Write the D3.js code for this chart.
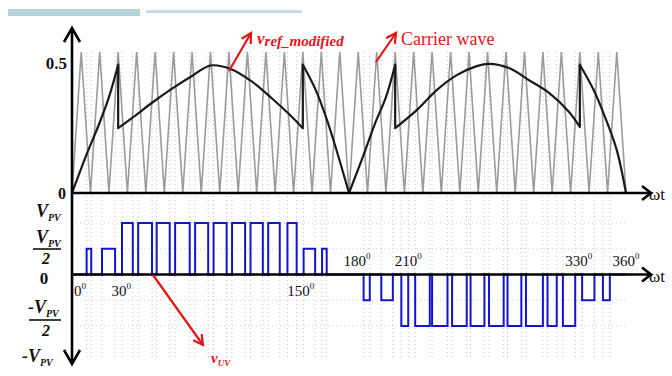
<!DOCTYPE html>
<html>
<head>
<meta charset="utf-8">
<script src="https://cdn.jsdelivr.net/npm/d3@7"></script>
<style>
body { margin: 0; background: #fff; }
svg { display: block; font-family: "Liberation Serif", "DejaVu Serif", serif; }
</style>
</head>
<body>
<div id="chart"></div>
<script>

// carrier wave corners, in degrees
var carrierValleys = [0, 12, 24, 36, 48, 60, 72, 84, 96, 108, 120, 132, 144, 156, 168, 180,
    192, 204, 216, 228, 240, 252, 264, 276, 288, 300, 312, 324, 336, 348, 360];
var carrierPeaks = [6, 18, 30, 42, 54, 66, 78, 90, 102, 114, 126, 138, 150, 162, 174,
    186, 198, 210, 222, 234, 246, 258, 270, 282, 294, 306, 318, 330, 342, 354];
var carrierMax = 0.5;

// v_ref_modified, jumps at 30/150/210/330, cusp at 180
var refAngles = [0, 9, 18, 24, 30, 30, 40, 52, 65, 78, 90, 103, 117, 130, 141, 150,
    150, 158, 165, 172, 180, 180, 189, 197, 204, 210, 210, 224, 237, 250, 263, 271, 284, 297, 310, 323, 330,
    330, 339, 347, 354, 360];
var refValues = [0, 0.13, 0.25, 0.34, 0.455, 0.23, 0.27, 0.32, 0.37, 0.415, 0.452, 0.44, 0.395, 0.335, 0.28, 0.23,
    0.455, 0.37, 0.27, 0.15, 0, 0, 0.128, 0.248, 0.34, 0.455, 0.23, 0.294, 0.365, 0.418, 0.45, 0.458, 0.443, 0.40, 0.355, 0.287, 0.234,
    0.455, 0.365, 0.26, 0.152, 0];

// v_UV pulses (degrees, level in units of V_PV)
var pulseStart = [9.5, 19.5, 32.5, 43, 55, 67, 80, 92, 104, 116, 127.5, 140, 150.5, 162.5,
    189.5, 201, 214, 223, 234, 247, 259, 271, 283, 295, 309, 319, 331.5, 345];
var pulseEnd = [12.5, 28, 39.5, 52, 63.5, 76.5, 88.5, 100.5, 112.5, 124, 135, 146, 158, 165.5,
    193.5, 208.5, 218.5, 232.5, 244, 256.5, 268, 280.5, 292, 306, 315, 327, 339.5, 349.5];
var pulseLevel = [0.5, 0.5, 1, 1, 1, 1, 1, 1, 1, 1, 1, 1, 0.5, 0.5,
    -0.5, -0.5, -1, -1, -1, -1, -1, -1, -1, -1, -1, -1, -0.5, -0.5];

var angleLabels = ['0', '30', '150', '180', '210', '330', '360'];
var angleTicks = [0, 30, 150, 180, 210, 330, 360];
var levelTicks = [1, 0.5, -0.5, -1];

var width = 672,
    height = 376;

var x = d3.scaleLinear().domain([0, 360]).range([72, 626]);
var yTop = d3.scaleLinear().domain([0, 0.5]).range([193, 52]);
var yBot = d3.scaleLinear().domain([-1, 1]).range([326, 223]);

var svg = d3.select('#chart').append('svg')
    .attr('width', width)
    .attr('height', height);

// cropped header bits from the source page
svg.append('rect').attr('x', 8).attr('y', 9).attr('width', 132).attr('height', 7).attr('fill', '#b7d3da');
svg.append('rect').attr('x', 146).attr('y', 10).attr('width', 156).attr('height', 3).attr('fill', '#c8dde2');

// dotted helper grid
var edges = pulseStart.concat(pulseEnd);
svg.append('g').selectAll('line')
    .data(edges)
    .enter().append('line')
    .attr('x1', d => x(d)).attr('x2', d => x(d))
    .attr('y1', yTop(carrierMax)).attr('y2', 358)
    .attr('stroke', '#c4c4c4')
    .attr('stroke-width', 1)
    .attr('stroke-dasharray', '1,3');
svg.append('g').selectAll('line')
    .data(levelTicks)
    .enter().append('line')
    .attr('x1', x(0)).attr('x2', x(360))
    .attr('y1', d => yBot(d)).attr('y2', d => yBot(d))
    .attr('stroke', '#cfcfcf')
    .attr('stroke-width', 1)
    .attr('stroke-dasharray', '1,3');

// carrier
var carrierPts = carrierValleys.map(a => [a, 0])
    .concat(carrierPeaks.map(a => [a, carrierMax]))
    .sort((a, b) => a[0] - b[0]);
svg.append('path')
    .datum(carrierPts)
    .attr('fill', 'none')
    .attr('stroke', '#9b9b9b')
    .attr('stroke-width', 1.6)
    .attr('d', d3.line().x(d => x(d[0])).y(d => yTop(d[1])));

// reference: smooth pieces joined by the vertical jumps
var segs = [[]];
refAngles.forEach(function (a, i) {
    if (i > 0 && a === refAngles[i - 1]) segs.push([]);
    segs[segs.length - 1].push([a, refValues[i]]);
});
var smooth = d3.line().x(d => x(d[0])).y(d => yTop(d[1])).curve(d3.curveCatmullRom.alpha(0.5));
var refPath = segs.map((s, i) => i === 0 ? smooth(s) : 'L' + smooth(s).slice(1)).join('');
svg.append('path')
    .attr('fill', 'none')
    .attr('stroke', '#1a1a1a')
    .attr('stroke-width', 2.2)
    .attr('stroke-linejoin', 'round')
    .attr('d', refPath);

// pulses
var pulsePts = [[0, 0]];
pulseStart.forEach(function (s, i) {
    pulsePts.push([s, 0], [s, pulseLevel[i]], [pulseEnd[i], pulseLevel[i]], [pulseEnd[i], 0]);
});
pulsePts.push([360, 0]);
svg.append('path')
    .datum(pulsePts)
    .attr('fill', 'none')
    .attr('stroke', '#1414c8')
    .attr('stroke-width', 2)
    .attr('d', d3.line().x(d => x(d[0])).y(d => yBot(d[1])));

// axes
var ax = svg.append('g').attr('stroke', '#000').attr('fill', 'none').attr('stroke-width', 2.6);
ax.append('line').attr('x1', x(0)).attr('x2', 650).attr('y1', yTop(0)).attr('y2', yTop(0));
ax.append('line').attr('x1', x(0)).attr('x2', 650).attr('y1', yBot(0)).attr('y2', yBot(0));
ax.append('line').attr('x1', x(0)).attr('x2', x(0)).attr('y1', 28).attr('y2', 364);
ax.append('path').attr('d', 'M64,42L72,28L80,42');
ax.append('path').attr('d', 'M64,350L72,364L80,350');
ax.append('path').attr('d', 'M642,' + (yTop(0) - 7) + 'L651,' + yTop(0) + 'L642,' + (yTop(0) + 7));
ax.append('path').attr('d', 'M642,' + (yBot(0) - 7) + 'L651,' + yBot(0) + 'L642,' + (yBot(0) + 7));

var txt = svg.append('g').attr('fill', '#111').attr('font-weight', 'bold');

txt.append('text').attr('x', 67).attr('y', 69).attr('text-anchor', 'end')
    .attr('font-size', 17).text('0.5');
txt.append('text').attr('x', 66).attr('y', 199).attr('text-anchor', 'end')
    .attr('font-size', 16).text('0');
txt.append('text').attr('x', 649).attr('y', 200).attr('font-size', 17).attr('font-weight', 'normal').text('ωt');
txt.append('text').attr('x', 649).attr('y', yBot(0) + 7).attr('font-size', 17).attr('font-weight', 'normal').text('ωt');

// V_PV style labels
function vpv(g, xx, yy, sign) {
    var t = g.append('text').attr('x', xx).attr('y', yy).attr('font-size', 18).attr('font-style', 'italic');
    t.append('tspan').text(sign + 'V');
    t.append('tspan').attr('font-size', 10).attr('dy', 4).text('PV');
}
vpv(txt, 36, 217, '');
vpv(txt, 36, 243, '');
txt.append('line').attr('x1', 33).attr('x2', 61).attr('y1', 249).attr('y2', 249)
    .attr('stroke', '#111').attr('stroke-width', 1.6);
txt.append('text').attr('x', 46).attr('y', 264).attr('text-anchor', 'middle').attr('font-size', 16)
    .attr('font-style', 'italic').text('2');
txt.append('text').attr('x', 44).attr('y', 284).attr('text-anchor', 'middle').attr('font-size', 17).text('0');
vpv(txt, 28, 313, '-');
txt.append('line').attr('x1', 29).attr('x2', 61).attr('y1', 320).attr('y2', 320)
    .attr('stroke', '#111').attr('stroke-width', 1.6);
txt.append('text').attr('x', 46).attr('y', 336).attr('text-anchor', 'middle').attr('font-size', 16)
    .attr('font-style', 'italic').text('2');
vpv(txt, 22, 362, '-');

// angle labels
var labelDx = [8, 3, -2, 8, 13, -1, 0];
angleTicks.forEach(function (a, i) {
    var below = a < 180;
    var t = txt.append('text')
        .attr('x', x(a) + labelDx[i])
        .attr('y', below ? 296 : 266)
        .attr('text-anchor', 'middle')
        .attr('font-size', 15)
        .attr('font-weight', 'normal');
    t.append('tspan').text(angleLabels[i]);
    t.append('tspan').attr('font-size', 9).attr('dy', -7).text('0');
});

// red annotations
var red = '#e0161b';
var ann = svg.append('g').attr('stroke', red).attr('stroke-width', 2.2).attr('fill', 'none');
function arrow(x1, y1, x2, y2) {
    ann.append('line').attr('x1', x1).attr('y1', y1).attr('x2', x2).attr('y2', y2);
    var ang = Math.atan2(y2 - y1, x2 - x1), L = 11;
    ann.append('path').attr('d',
        'M' + (x2 - L * Math.cos(ang - 0.5)) + ',' + (y2 - L * Math.sin(ang - 0.5)) +
        'L' + x2 + ',' + y2 +
        'L' + (x2 - L * Math.cos(ang + 0.5)) + ',' + (y2 - L * Math.sin(ang + 0.5)));
}
arrow(229, 71, 251, 33);
arrow(376, 62, 396, 33);
arrow(153, 275, 203, 345);

var rt = svg.append('g').attr('fill', red).attr('font-weight', 'bold');
var t1 = rt.append('text').attr('x', 257).attr('y', 44).attr('font-size', 17).attr('font-style', 'italic');
t1.append('tspan').text('v');
t1.append('tspan').attr('font-size', 15).attr('dy', 2).text('ref_modified');
rt.append('text').attr('x', 401).attr('y', 45).attr('font-size', 18).attr('font-weight', 'normal')
    .text('Carrier wave');
var t2 = rt.append('text').attr('x', 211).attr('y', 363).attr('font-size', 15).attr('font-style', 'italic');
t2.append('tspan').text('v');
t2.append('tspan').attr('font-size', 9).attr('dy', 3).text('UV');

</script>
</body>
</html>
